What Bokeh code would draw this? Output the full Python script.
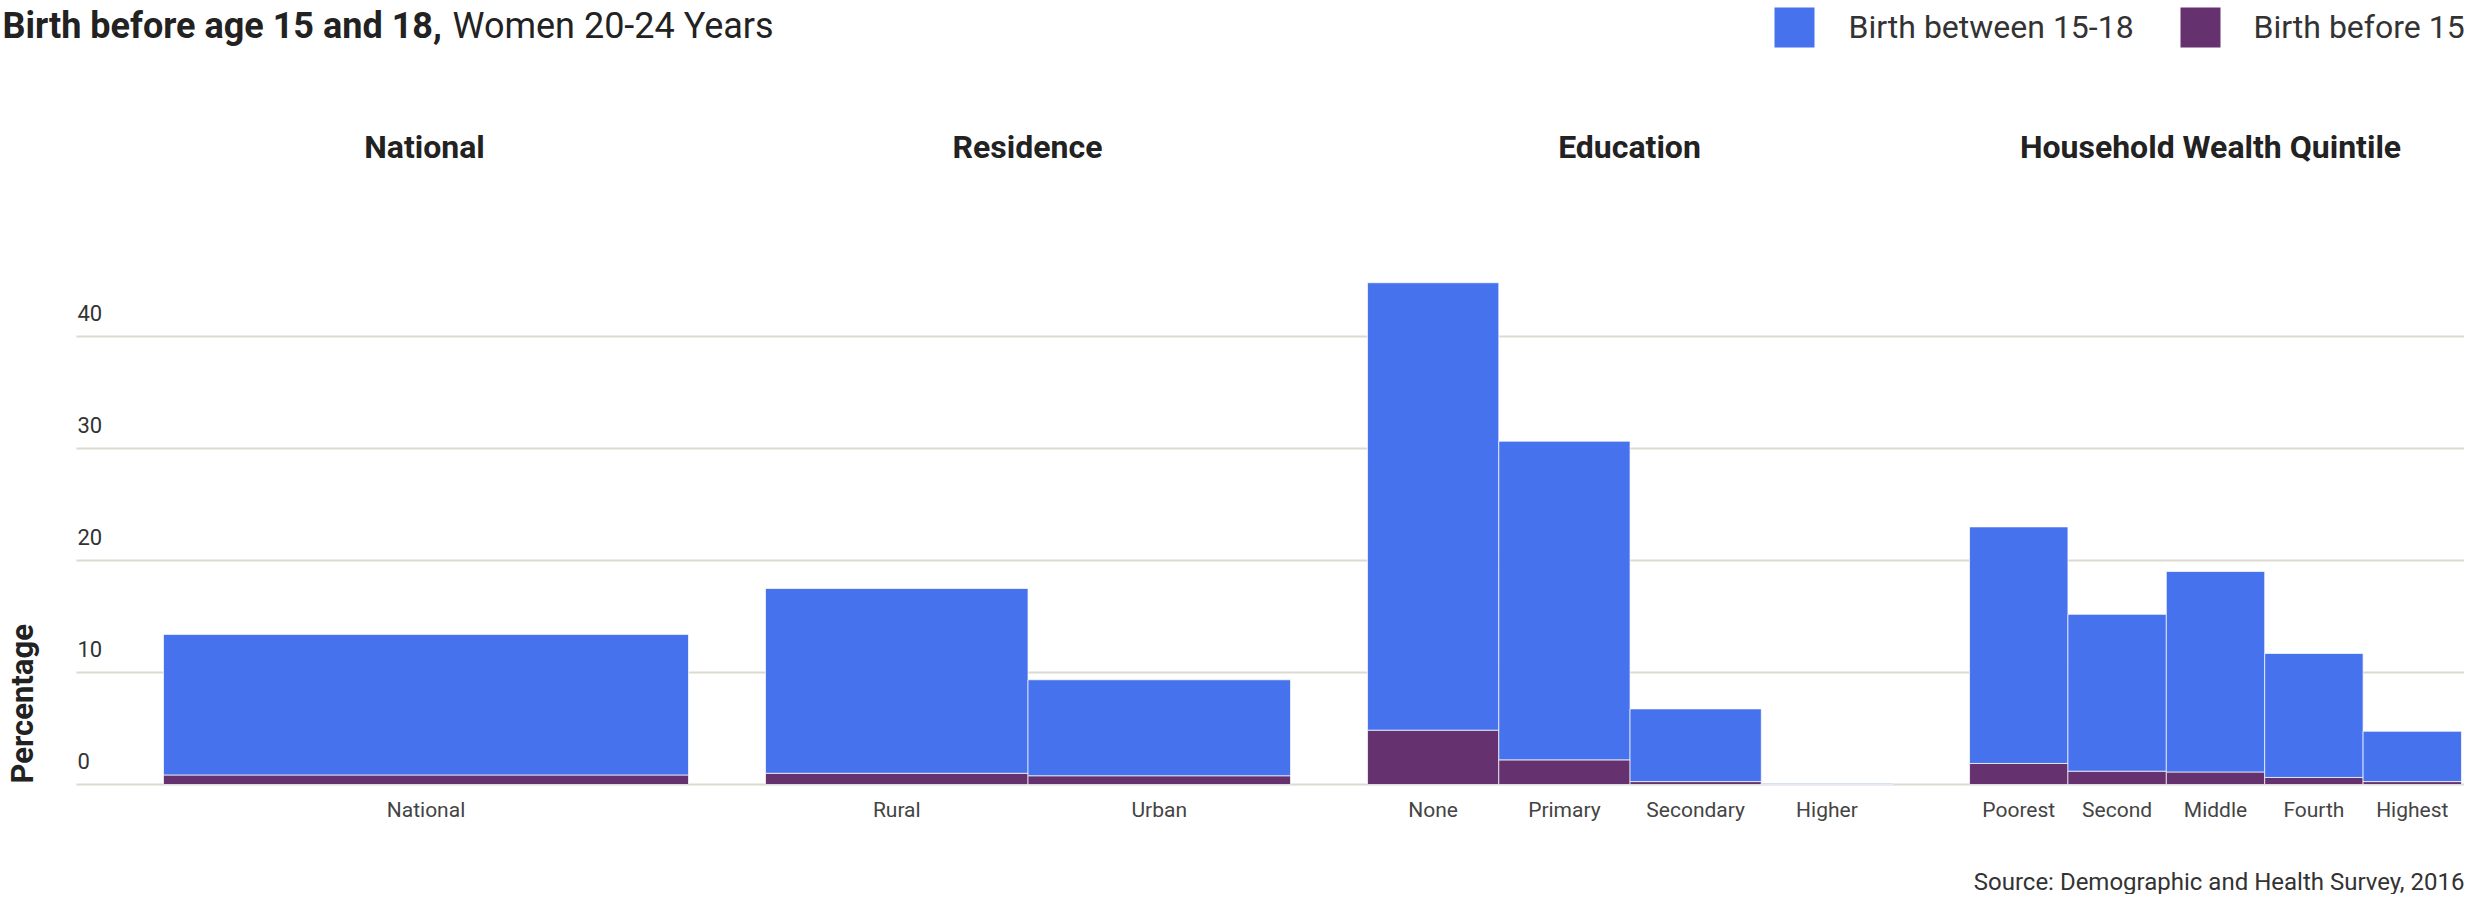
import math
from bokeh.plotting import figure
from bokeh.models import Range1d, ColumnDataSource
from bokeh.core.properties import value
from bokeh.embed import file_html
from bokeh.resources import INLINE

# ---------------- data ----------------
groups = ["National", "Residence", "Education", "Household Wealth Quintile"]
categories = [
    ["National"],
    ["Rural", "Urban"],
    ["None", "Primary", "Secondary", "Higher"],
    ["Poorest", "Second", "Middle", "Fourth", "Highest"],
]
birth_before_15 = [
    [0.85],
    [1.0, 0.78],
    [4.85, 2.2, 0.26, 0.0],
    [1.88, 1.19, 1.12, 0.63, 0.26],
]
birth_15_18 = [
    [12.55],
    [16.5, 8.57],
    [39.95, 28.45, 6.49, 0.1],
    [21.12, 14.0, 17.9, 11.07, 4.49],
]
y_ticks = [0, 10, 20, 30, 40]
y_tick_labels = ["0", "10", "20", "30", "40"]
series_names = ["Birth between 15-18", "Birth before 15"]
title_bold = "Birth before age 15 and 18,"
title_rest = "Women 20-24 Years"
y_title = "Percentage"
source_text = "Source: Demographic and Health Survey, 2016"

# ---------------- layout / style ----------------
W, H = 2464, 894
FONT = value("Roboto")
BLUE = "#4672ED"
PURPLE = "#65326F"
GRID = "#DCD9CF"
X0_PX, GROUP_PX = 163.0, 525.0     # pixel of x=0, pixels per group
ZERO_PX, UNIT_PX = 784.0, 11.2      # pixel of y=0, pixels per percent


def dx(px):
    return (px - X0_PX) / GROUP_PX


def dy(py):
    return (ZERO_PX - py) / UNIT_PX


GROUP_WIDTH = [1.0, 1.0, 1.0, 0.937]
GROUP_GAP = 0.1467
TITLE_CENTERS_PX = [424, 1027, 1629, 2210]

# build bar positions from the category structure
xs, ws, b15, tops, labels = [], [], [], [], []
start = 0.0
for cats, v15, v1518, gw in zip(categories, birth_before_15, birth_15_18, GROUP_WIDTH):
    n = len(cats)
    bw = gw / n
    for i, c in enumerate(cats):
        xs.append(start + (i + 0.5) * bw)
        ws.append(bw)
        b15.append(v15[i])
        tops.append(v15[i] + v1518[i])
        labels.append(c)
    start += gw + GROUP_GAP

src = ColumnDataSource(dict(x=xs, w=ws, b15=b15, top=tops, label=labels))

p = figure(
    width=W, height=H,
    x_range=Range1d(dx(0), dx(W)),
    y_range=Range1d(dy(H), dy(0)),
    x_axis_type=None, y_axis_type=None,
    output_backend="svg", toolbar_location=None,
    min_border=0, min_border_left=0, min_border_right=0,
    min_border_top=0, min_border_bottom=0,
)
p.outline_line_color = None
p.grid.visible = False
p.background_fill_color = "white"
p.border_fill_color = "white"

# gridlines
p.segment(x0=[dx(76)] * len(y_ticks), x1=[dx(W)] * len(y_ticks),
          y0=y_ticks, y1=y_ticks, line_color=GRID, line_width=2)

# bars (stacked)
p.vbar(x="x", width="w", bottom=0, top="b15", source=src,
       fill_color=PURPLE, line_color="white", line_width=1, line_alpha=0.7)
p.vbar(x="x", width="w", bottom="b15", top="top", source=src,
       fill_color=BLUE, line_color="white", line_width=1, line_alpha=0.7)

# y tick labels (above gridlines)
p.text(x=[dx(77)] * len(y_ticks), y=y_ticks, text=y_tick_labels, y_offset=-24,
       text_font=FONT, text_font_size="22px", text_color="#333333",
       text_align="left", text_baseline="middle")

# x category labels
p.text(x="x", y=0, text="label", source=src, y_offset=25,
       text_font=FONT, text_font_size="21px", text_color="#444444",
       text_align="center", text_baseline="middle")

# group titles
p.text(x=[dx(c) for c in TITLE_CENTERS_PX], y=[dy(146)] * 4, text=groups,
       text_font=FONT, text_font_size="32px", text_font_style="bold",
       text_color="#222222", text_align="center", text_baseline="middle")

# y axis title
p.text(x=[dx(22)], y=[dy(783)], text=[y_title], angle=math.pi / 2,
       text_font=FONT, text_font_size="31px", text_font_style="bold",
       text_color="#222222", text_align="left", text_baseline="middle")

# title
p.text(x=[dx(2)], y=[dy(25)], text=[title_bold],
       text_font=FONT, text_font_size="36px", text_font_style="bold",
       text_color="#222222", text_align="left", text_baseline="middle")
p.text(x=[dx(452)], y=[dy(25)], text=[title_rest],
       text_font=FONT, text_font_size="36px",
       text_color="#222222", text_align="left", text_baseline="middle")

# legend
p.scatter(x=[dx(1794), dx(2200)], y=[dy(27), dy(27)], marker="square", size=40,
          fill_color=[BLUE, PURPLE], line_color=None)
p.text(x=[dx(1848), dx(2253)], y=[dy(26), dy(26)], text=series_names,
       text_font=FONT, text_font_size="32px", text_color="#333333",
       text_align="left", text_baseline="middle")

# source
p.text(x=[dx(W)], y=[dy(881)], text=[source_text],
       text_font=FONT, text_font_size="24px", text_color="#333333",
       text_align="right", text_baseline="middle")

open("out.html", "w").write(file_html(p, INLINE))
